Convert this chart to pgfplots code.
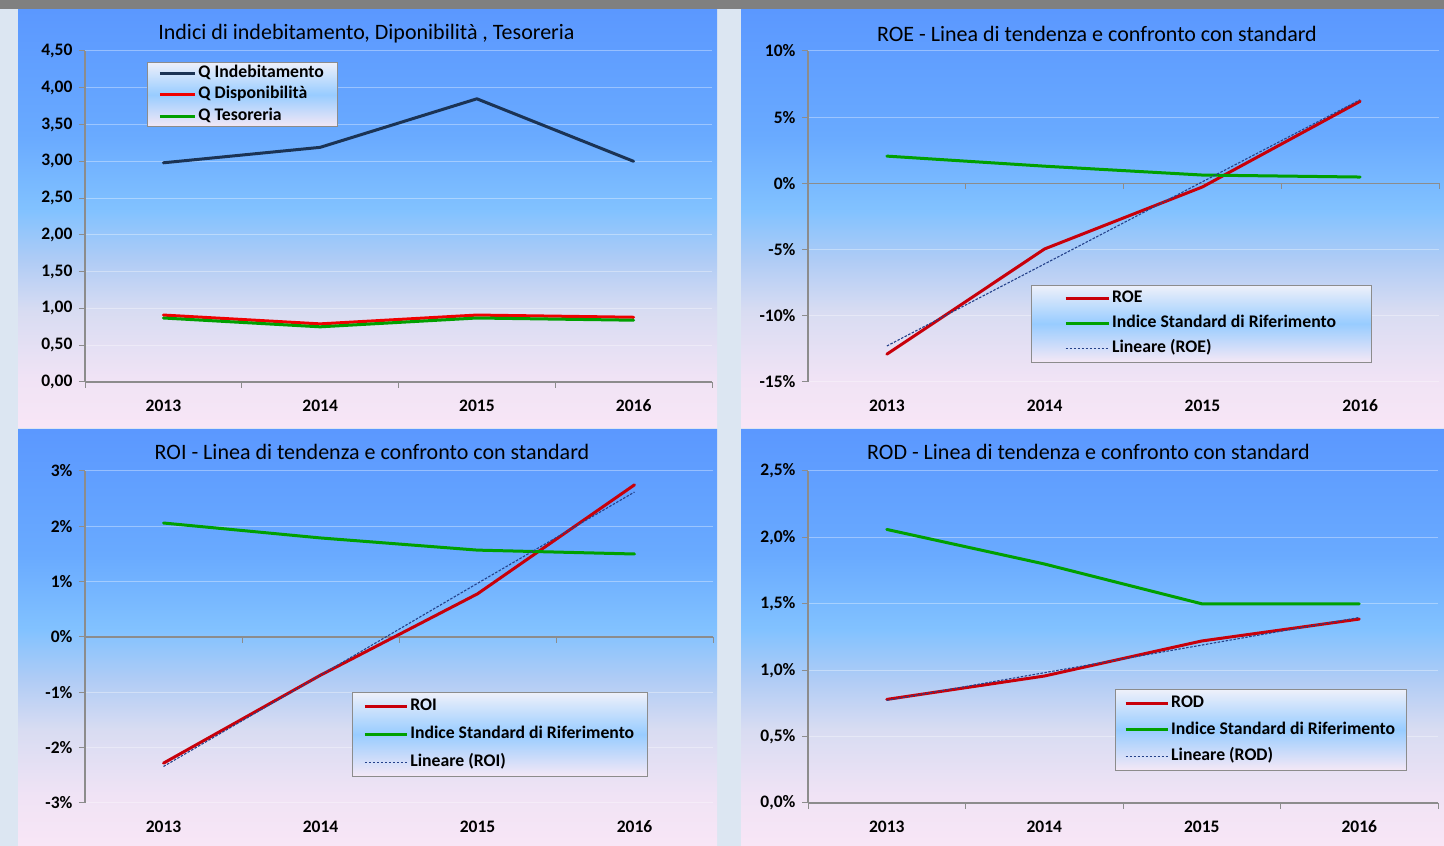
\documentclass[border=0pt]{standalone}
\usepackage{pgfplots}
\pgfplotsset{compat=1.18}
\usepackage{fontspec}
\setmainfont{Carlito}

\definecolor{bgc}{HTML}{DCE6F2}
\definecolor{band}{HTML}{808080}
\definecolor{pT}{HTML}{5B98FF}
\definecolor{pA}{HTML}{69AAFF}
\definecolor{pB}{HTML}{82C2FF}
\definecolor{pC}{HTML}{B0CCF5}
\definecolor{pD}{HTML}{D8DCF2}
\definecolor{pE}{HTML}{F0E3F5}
\definecolor{pF}{HTML}{F8E6F6}
\definecolor{axisgray}{HTML}{8C8C8C}
\definecolor{navy}{HTML}{1B3354}
\definecolor{brightred}{HTML}{F00000}
\definecolor{darkred}{HTML}{C8000A}
\definecolor{grn}{HTML}{00A000}
\definecolor{trend}{HTML}{24418A}
\definecolor{legtop}{HTML}{EEF0FA}
\definecolor{legmid}{HTML}{98CCFF}
\definecolor{legbot}{HTML}{F4E8F6}

\pgfdeclareverticalshading{panelsh}{100bp}{color(0bp)=(pF); color(25bp)=(pF); color(31bp)=(pE); color(39bp)=(pD); color(45bp)=(pC); color(51bp)=(pB); color(60bp)=(pA); color(75bp)=(pT); color(100bp)=(pT)}

\pgfplotsset{
  common/.style={
    scale only axis,
    anchor=south west,
    axis x line*=bottom, axis y line*=left,
    xmin=0.5, xmax=4.5,
    xtick={0.5,1.5,2.5,3.5,4.5},
    x tick label as interval,
    xticklabels={2013,2014,2015,2016},
    tick align=outside,
    major tick length=6pt,
    every tick/.style={axisgray, line width=1pt},
    axis line style={axisgray, line width=1.2pt},
    ymajorgrids,
    grid style={white, opacity=0.35, line width=1pt},
    ticklabel style={font=\fontsize{17.5}{20}\selectfont\bfseries},
    xticklabel style={yshift=-8pt},
    yticklabel style={xshift=-3pt},
    legend cell align=left,
    legend style={draw=axisgray, line width=0.8pt, top color=legtop, bottom color=legbot, middle color=legmid,
      font=\fontsize{17.7}{20}\selectfont\bfseries,
      nodes={inner xsep=2pt, inner ysep=0pt, text height=12.5pt, text depth=4pt},
      anchor=north west},
    clip=false,
  },
  mainline/.style={line width=3pt, line join=round, line cap=round},
  trendline/.style={trend, line width=1.1pt, dash pattern=on 2.5pt off 1.5pt},
}

\begin{document}
\begin{tikzpicture}
% background
\fill[bgc] (0pt,0pt) rectangle (1444pt,846pt);
\fill[band] (0pt,837pt) rectangle (1444pt,846pt);
\shade[shading=panelsh] (18pt,418pt) rectangle (717pt,836pt);
\shade[shading=panelsh] (741pt,418pt) rectangle (1444pt,836pt);
\shade[shading=panelsh] (18pt,0pt) rectangle (717pt,416pt);
\shade[shading=panelsh] (741pt,0pt) rectangle (1444pt,416pt);

% ---------- Top left ----------
\begin{axis}[common, at={(85pt,464pt)}, width=627pt, height=331pt,
  ymin=0, ymax=4.5, ytick={0,0.5,...,4.5},
  yticklabels={{0,00},{0,50},{1,00},{1,50},{2,00},{2,50},{3,00},{3,50},{4,00},{4,50}},
  legend image code/.code={\draw[#1, line cap=butt] (0pt,0pt) -- (35pt,0pt);},
  legend style={at={(0.099,0.967)}, inner xsep=11pt, inner ysep=2.5pt, row sep=5pt},
]
\addplot[navy, mainline] coordinates {(1,2.98) (2,3.19) (3,3.85) (4,3.00)};
\addlegendentry{Q Indebitamento}
\addplot[brightred, mainline] coordinates {(1,0.91) (2,0.79) (3,0.91) (4,0.88)};
\addlegendentry{Q Disponibilità}
\addplot[grn, mainline] coordinates {(1,0.87) (2,0.75) (3,0.87) (4,0.84)};
\addlegendentry{Q Tesoreria}
\end{axis}

% ---------- Top right ----------
\begin{axis}[common, at={(808pt,464pt)}, width=631pt, height=331pt,
  ymin=-15, ymax=10, ytick={-15,-10,...,10},
  yticklabels={-15\%,-10\%,-5\%,0\%,5\%,10\%},
  x axis line style={draw=none}, xtick style={draw=none},
  legend image code/.code={\draw[#1, line cap=butt] (0pt,0pt) -- (43pt,0pt);},
  legend style={at={(0.353,0.293)}, inner xsep=33pt, inner ysep=5pt, row sep=8.5pt},
]
\draw[axisgray, line width=1.2pt] (axis cs:0.5,0) -- (axis cs:4.5,0);
\pgfplotsinvokeforeach{1.5,2.5,3.5,4.5}{\draw[axisgray, line width=1pt] (axis cs:#1,0) -- ++(0pt,-6pt);}
\addplot[darkred, mainline] coordinates {(1,-12.9) (2,-4.95) (3,-0.27) (4,6.2)};
\addlegendentry{ROE}
\addplot[grn, mainline] coordinates {(1,2.06) (2,1.30) (3,0.63) (4,0.48)};
\addlegendentry{Indice Standard di Riferimento}
\addplot[trendline] coordinates {(1,-12.28) (2,-6.08) (3,0.12) (4,6.32)};
\addlegendentry{Lineare (ROE)}
\end{axis}

% ---------- Bottom left ----------
\begin{axis}[common, at={(85pt,43pt)}, width=628pt, height=332pt,
  ymin=-3, ymax=3, ytick={-3,-2,...,3},
  yticklabels={-3\%,-2\%,-1\%,0\%,1\%,2\%,3\%},
  x axis line style={draw=none}, xtick style={draw=none},
  legend image code/.code={\draw[#1, line cap=butt] (0pt,0pt) -- (42pt,0pt);},
  legend style={at={(0.425,0.334)}, inner xsep=11pt, inner ysep=5.5pt, row sep=11.5pt},
]
\draw[axisgray, line width=1.2pt] (axis cs:0.5,0) -- (axis cs:4.5,0);
\pgfplotsinvokeforeach{1.5,2.5,3.5,4.5}{\draw[axisgray, line width=1pt] (axis cs:#1,0) -- ++(0pt,-6pt);}
\addplot[darkred, mainline] coordinates {(1,-2.28) (2,-0.69) (3,0.78) (4,2.75)};
\addlegendentry{ROI}
\addplot[grn, mainline] coordinates {(1,2.06) (2,1.79) (3,1.57) (4,1.50)};
\addlegendentry{Indice Standard di Riferimento}
\addplot[trendline] coordinates {(1,-2.34) (2,-0.69) (3,0.97) (4,2.62)};
\addlegendentry{Lineare (ROI)}
\end{axis}

% ---------- Bottom right ----------
\begin{axis}[common, at={(808pt,43pt)}, width=630pt, height=332pt,
  ymin=0, ymax=2.5, ytick={0,0.5,...,2.5},
  yticklabels={{0,0\%},{0,5\%},{1,0\%},{1,5\%},{2,0\%},{2,5\%}},
  legend image code/.code={\draw[#1, line cap=butt] (0pt,0pt) -- (42pt,0pt);},
  legend style={at={(0.487,0.343)}, inner xsep=9pt, inner ysep=5.5pt, row sep=10pt},
]
\addplot[darkred, mainline] coordinates {(1,0.78) (2,0.956) (3,1.22) (4,1.385)};
\addlegendentry{ROD}
\addplot[grn, mainline] coordinates {(1,2.06) (2,1.80) (3,1.50) (4,1.50)};
\addlegendentry{Indice Standard di Riferimento}
\addplot[trendline] coordinates {(1,0.773) (2,0.981) (3,1.189) (4,1.397)};
\addlegendentry{Lineare (ROD)}
\end{axis}

% titles
\node[anchor=base, font=\fontsize{22}{26}\selectfont] at (366.5pt,806pt) {Indici di indebitamento, Diponibilità , Tesoreria};
\node[anchor=base, font=\fontsize{22}{26}\selectfont] at (1097pt,804pt) {ROE - Linea di tendenza e confronto con standard};
\node[anchor=base, font=\fontsize{22}{26}\selectfont] at (372pt,386pt) {ROI - Linea di tendenza e confronto con standard};
\node[anchor=base, font=\fontsize{22}{26}\selectfont] at (1088.5pt,386pt) {ROD - Linea di tendenza e confronto con standard};
\end{tikzpicture}
\end{document}
